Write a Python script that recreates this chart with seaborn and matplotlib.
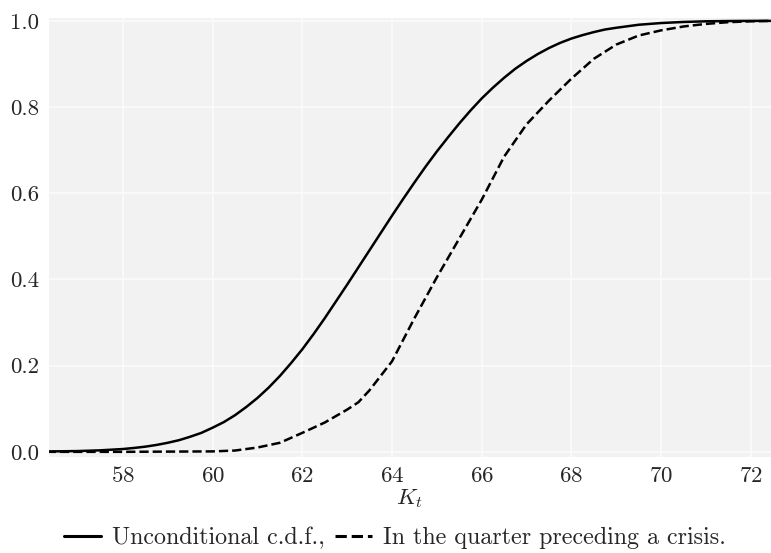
import numpy as np
import pandas as pd
import seaborn as sns
from matplotlib import pyplot as plt

# values
k_uncond = [56.3, 57.0, 57.5, 58.0, 58.25, 58.5, 58.75, 59.0, 59.25, 59.5, 59.75,
            60.0, 60.25, 60.5, 60.75, 61.0, 61.25, 61.5, 61.75, 62.0, 62.25, 62.5,
            62.75, 63.0, 63.25, 63.5, 63.75, 64.0, 64.25, 64.5, 64.75, 65.0, 65.25,
            65.5, 65.75, 66.0, 66.25, 66.5, 66.75, 67.0, 67.25, 67.5, 67.75, 68.0,
            68.25, 68.5, 68.75, 69.0, 69.5, 70.0, 70.5, 71.0, 71.5, 72.0, 72.5]
cdf_uncond = [0.0008, 0.0018, 0.0035, 0.0065, 0.009, 0.012, 0.016, 0.021, 0.027,
              0.035, 0.044, 0.056, 0.069, 0.085, 0.104, 0.125, 0.149, 0.176, 0.206,
              0.238, 0.273, 0.310, 0.349, 0.388, 0.428, 0.468, 0.508, 0.548, 0.587,
              0.625, 0.662, 0.697, 0.730, 0.762, 0.792, 0.820, 0.845, 0.868, 0.889,
              0.907, 0.923, 0.937, 0.949, 0.959, 0.967, 0.974, 0.980, 0.984, 0.991,
              0.995, 0.9975, 0.999, 0.9996, 1.0, 1.0]

k_crisis = [56.3, 58.0, 59.0, 60.0, 60.5, 61.0, 61.5, 62.0, 62.5, 63.0, 63.25, 63.5,
            64.0, 64.5, 65.0, 65.5, 66.0, 66.5, 67.0, 67.5, 68.0, 68.5, 69.0, 69.5,
            70.0, 70.5, 71.0, 71.5, 72.0, 72.5]
cdf_crisis = [0.0, 0.0, 0.0005, 0.001, 0.003, 0.01, 0.021, 0.044, 0.068, 0.098, 0.115,
              0.143, 0.21, 0.31, 0.405, 0.495, 0.585, 0.685, 0.76, 0.815, 0.866, 0.912,
              0.945, 0.966, 0.978, 0.987, 0.993, 0.997, 0.999, 1.0]

x_ticks = [58, 60, 62, 64, 66, 68, 70, 72]
y_ticks = [0.0, 0.2, 0.4, 0.6, 0.8, 1.0]

sns.set_style('darkgrid', {'axes.facecolor': '#f2f2f2', 'grid.color': '#fbfbfb'})
plt.rcParams['font.family'] = ['cmr10', 'DejaVu Serif']
plt.rcParams['mathtext.fontset'] = 'cm'
plt.rcParams['axes.formatter.use_mathtext'] = True
plt.rcParams['font.size'] = 16.5

df_u = pd.DataFrame({'K': k_uncond, 'cdf': cdf_uncond})
df_c = pd.DataFrame({'K': k_crisis, 'cdf': cdf_crisis})

fig, ax = plt.subplots(figsize=(7.71, 5.53), dpi=100)
fig.subplots_adjust(left=48 / 771, right=1.0, top=1 - 17 / 553, bottom=1 - 457 / 553)

sns.lineplot(data=df_u, x='K', y='cdf', ax=ax, color='black', lw=1.8,
             label='Unconditional c.d.f.,')
sns.lineplot(data=df_c, x='K', y='cdf', ax=ax, color='black', lw=1.8, ls='--',
             label='In the quarter preceding a crisis.')

ax.set_xlim(56.33, 72.45)
ax.set_ylim(-0.012, 1.009)
ax.set_xticks(x_ticks)
ax.set_yticks(y_ticks)
ax.set_yticklabels([f'{v:.1f}' for v in y_ticks])
ax.tick_params(axis='both', labelsize=16.5, pad=3)
ax.set_xlabel('$K_t$', fontsize=16.5, labelpad=1)
ax.set_ylabel('')
ax.grid(lw=1.2)

handles, labels = ax.get_legend_handles_labels()
ax.get_legend().remove()
leg = fig.legend(handles, labels, loc='center', ncol=2, frameon=False,
                 bbox_to_anchor=(395 / 771, 1 - 538 / 553), handlelength=1.54,
                 handletextpad=0.45, columnspacing=0.45, fontsize=17.3)
for h in leg.legend_handles:
    h.set_linewidth(2.2)

fig.savefig('out.png', dpi=100)
